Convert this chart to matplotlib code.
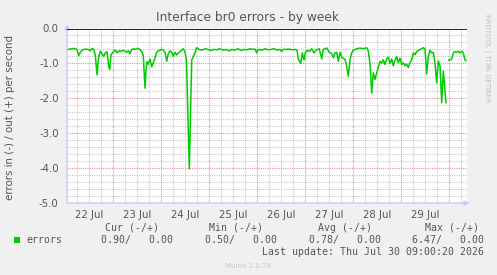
import numpy as np
import matplotlib
matplotlib.use("Agg")
import matplotlib.pyplot as plt
from matplotlib.patches import Rectangle

# hours since 22 Jul 00:00
hours = [1.15, 2.8, 4.5, 6.15, 7.0, 7.8, 8.65, 10.3, 12.0, 12.8, 13.65, 14.5, 15.3, 16.15, 17.0, 17.8,
         18.65, 19.5, 20.3, 21.15, 22.0, 22.5, 23.15, 24.5, 25.3, 26.15, 27.0, 27.8, 29.5, 30.3, 31.0,
         31.8, 32.65, 33.5, 34.65, 35.65, 36.65, 37.65, 38.5, 39.3, 40.15, 40.65, 41.15, 41.8, 42.65,
         43.5, 44.3, 45.15, 46.0, 46.8, 48.5, 49.3, 50.15, 51.0, 51.8, 52.65, 53.5, 54.3, 55.15, 56.0,
         56.8, 57.65, 58.5, 59.3, 60.15, 60.9, 62.3, 63.5, 64.3, 65.15, 65.9,
         67.15, 68.65, 70.15, 71.65, 73.15, 74.65, 76.15, 77.65, 79.15, 80.65, 82.15, 83.65, 85.15,
         86.65, 88.15, 89.65, 91.15, 92.65, 94.15, 95.15, 96.0, 96.65, 98.65, 100.15, 101.65, 103.15,
         104.65, 106.15, 107.65, 108.5, 109.15, 110.65, 112.15, 113.65, 115.15, 116.15,
         116.8, 118.0, 118.8, 119.65, 120.3, 121.3, 122.4, 123.5, 124.65, 125.65, 127.3, 128.5, 129.3,
         131.0, 132.3, 133.5, 134.3, 135.15, 136.0, 136.8, 137.65, 138.5, 139.3, 140.15, 141.0, 141.8,
         142.65, 143.5, 144.3, 146.0, 147.65, 149.3, 151.0, 151.8, 152.65, 153.5, 154.3, 155.15, 156.0,
         156.8, 157.65, 158.5, 159.3, 160.15, 161.0, 161.8, 162.65, 163.5, 164.3, 165.15, 166.0, 166.8,
         167.65, 168.5, 169.3, 170.15, 171.0, 171.8, 172.65, 173.5, 174.3, 175.15, 176.0, 177.65, 178.5,
         179.3, 180.15, 181.0, 181.8, 182.65, 183.5, 184.3, 185.15, 186.0, 186.8, 187.65, 188.5, 189.3,
         190.15, 190.65, 191.5, 192.0, 192.65, 193.5, 194.3, 195.15, 196.0, 196.8, 197.65, 198.5, 199.3,
         200.15, 200.65]
errors_in = [-0.60, -0.59, -0.57, -0.60, -0.78, -0.68, -0.62, -0.59, -0.60, -0.64, -0.57, -0.60, -0.76,
             -1.33, -0.80, -0.65, -0.72, -0.80, -0.70, -0.66, -1.08, -1.17, -0.75, -0.66, -0.62, -0.70,
             -0.64, -0.66, -0.62, -0.65, -0.68, -0.64, -0.72, -0.60, -0.58, -0.60, -0.57, -0.60, -0.66,
             -0.78, -1.71, -1.20, -0.95, -1.02, -0.88, -1.10, -0.98, -0.85, -0.68, -0.64, -0.60, -0.62,
             -0.68, -0.94, -0.72, -0.64, -0.68, -0.80, -0.68, -0.76, -0.70, -0.66, -0.62, -0.58, -0.66,
             -0.94, -4.02, -0.90, -0.80, -0.70, -0.55,
             -0.60, -0.62, -0.58, -0.60, -0.63, -0.60, -0.61, -0.58, -0.62, -0.60, -0.64, -0.60, -0.62,
             -0.58, -0.63, -0.60, -0.61, -0.58, -0.60, -0.59, -0.70, -0.60, -0.62, -0.58, -0.61, -0.60,
             -0.58, -0.62, -0.60, -0.66, -0.60, -0.60, -0.59, -0.61, -0.60, -0.62,
             -0.88, -1.00, -0.70, -0.90, -0.70, -0.62, -0.66, -0.58, -0.70, -0.62, -0.58, -0.87, -0.60,
             -0.56, -0.68, -0.72, -0.84, -0.70, -0.68, -0.94, -0.68, -0.82, -0.86, -0.88, -1.08, -1.37,
             -0.90, -0.70, -0.62, -0.58, -0.56, -0.58, -0.55, -0.64, -1.00, -1.85, -1.27, -1.46, -1.27,
             -1.12, -0.94, -1.00, -0.90, -1.03, -0.87, -0.82, -1.00, -0.87, -1.07, -0.92, -0.80, -0.98,
             -0.85, -1.03, -0.98, -1.07, -1.02, -1.12, -0.98, -0.90, -0.70, -0.75, -0.66, -0.60, -0.58,
             -0.55, -0.58, -1.30, -0.80, -0.62, -0.70, -0.68, -0.98, -1.56, -0.93, -1.07, -2.13, -1.22,
             -1.80, -2.13, np.nan, -0.91, -0.90, -0.88, -0.70, -0.66, -0.68, -0.65, -0.70, -0.65, -0.70,
             -0.90, -0.92]
day_labels = ["22 Jul", "23 Jul", "24 Jul", "25 Jul", "26 Jul", "27 Jul", "28 Jul", "29 Jul"]
y_ticks = [0.0, -1.0, -2.0, -3.0, -4.0, -5.0]
legend_cols = ["Cur (-/+)", "Min (-/+)", "Avg (-/+)", "Max (-/+)"]
legend_vals = ["0.90/   0.00", "0.50/   0.00", "0.78/   0.00", "6.47/   0.00"]

W, H = 497, 275
fig = plt.figure(figsize=(W / 100, H / 100), dpi=100, facecolor="#F0F0F0")
L, R, T, B = 67, 467, 28.5, 203
ax = fig.add_axes([L / W, 1 - B / H, (R - L) / W, (B - T) / H])
ax.set_facecolor("white")
x0, x1 = 1.15, 201.15
ax.set_xlim(x0, x1)
ax.set_ylim(-5, 0)
for s in ax.spines.values():
    s.set_visible(False)

dot = (0, (1, 1))
# minor grid
for h in np.arange(0, 204, 6):
    if x0 < h < x1 and h % 24 != 0:
        ax.axvline(h, color="#C8C8C8", lw=0.8, ls=dot, zorder=1)
for v in np.arange(-5, 0.01, 0.2):
    if abs(v - round(v)) > 1e-6:
        ax.axhline(v, color="#C8C8C8", lw=0.8, ls=dot, zorder=1)
# major grid
for h in range(24, 200, 24):
    ax.axvline(h, color="#E89090", lw=0.8, ls=dot, zorder=1)
for v in y_ticks[1:-1]:
    ax.axhline(v, color="#E89090", lw=0.8, ls=dot, zorder=1)

ax.plot(hours, errors_in, color="#00CC00", lw=1.1, zorder=3)
ax.axhline(0, color="black", lw=1.2, zorder=4)

ax.set_xticks([12 + 24 * i for i in range(len(day_labels))])
ax.set_xticklabels(day_labels)
ax.set_yticks(y_ticks)
ax.set_yticklabels([f"{v:.1f}" for v in y_ticks])
ax.tick_params(length=0, labelsize=7.3, colors="#555555", pad=6)
ax.tick_params(axis="x", pad=5)

# axes with arrows
axc = "#C8C8F8"
ax.annotate("", xy=(0, 1.04), xytext=(0, -0.01), xycoords="axes fraction",
            arrowprops=dict(arrowstyle="-|>", color=axc, lw=1, mutation_scale=7), annotation_clip=False)
ax.annotate("", xy=(1.013, 0), xytext=(-0.008, 0), xycoords="axes fraction",
            arrowprops=dict(arrowstyle="-|>", color=axc, lw=1, mutation_scale=7), annotation_clip=False)

tc = "#555555"
fig.text(248 / W, 1 - 18 / H, "Interface br0 errors - by week", ha="center", va="center",
         fontsize=8.8, color=tc)
fig.text(10 / W, 1 - 117 / H, "errors in (-) / out (+) per second", rotation=90,
         ha="center", va="center", fontsize=7.4, color=tc)
fig.text(487 / W, 1 - 58 / H, "RRDTOOL / TOBI OETIKER", rotation=270, ha="center", va="center",
         fontsize=5, color="#C0C0C0")

mono = "DejaVu Sans Mono"
fs = 7.1
col_right = [157, 261, 370, 477]
for cx, name in zip(col_right, legend_cols):
    fig.text((cx + 2) / W, 1 - 228 / H, name, ha="right", va="center", family=mono, fontsize=fs, color=tc)
val_right = [171, 275, 379, 482]
for cx, val in zip(val_right, legend_vals):
    fig.text((cx + 2) / W, 1 - 240 / H, val, ha="right", va="center", family=mono, fontsize=fs, color=tc)
fig.patches.append(Rectangle((14 / W, 1 - 243 / H), 6 / W, 6 / H, transform=fig.transFigure,
                             facecolor="#00CC00", edgecolor="none"))
fig.text(26 / W, 1 - 240 / H, "errors", ha="left", va="center", family=mono, fontsize=fs, color=tc)
fig.text(484 / W, 1 - 252 / H, "Last update: Thu Jul 30 09:00:20 2026", ha="right", va="center",
         family=mono, fontsize=fs, color=tc)
fig.text(248 / W, 1 - 266 / H, "Munin 2.0.76", ha="center", va="center", fontsize=5, color="#C8C8C8")

fig.savefig("out.png", dpi=100, facecolor=fig.get_facecolor())
